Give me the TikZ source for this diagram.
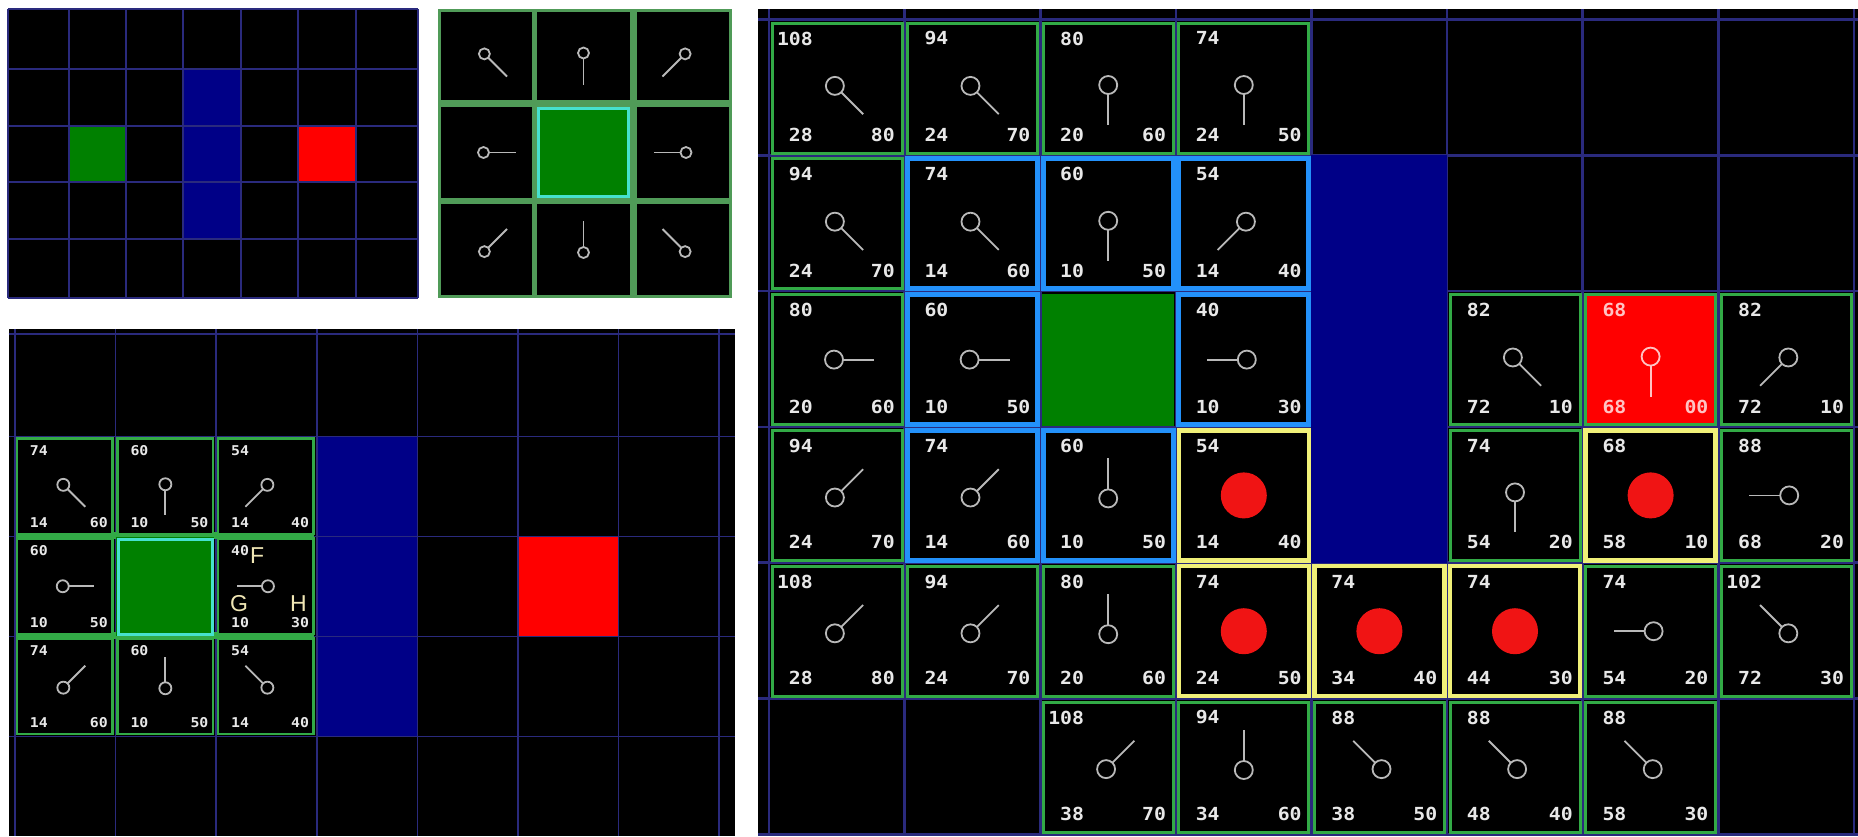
\documentclass[tikz,border=0pt]{standalone}
\usepackage{fontspec}
\newfontfamily\pixfont[FakeStretch=1.1]{DejaVu Sans Mono}
\newfontfamily\lblfont{Liberation Sans}
\definecolor{gridc}{RGB}{42,42,125}
\definecolor{wallc}{RGB}{0,0,135}
\definecolor{startc}{RGB}{0,128,0}
\definecolor{goalc}{RGB}{255,0,0}
\definecolor{dotc}{RGB}{240,20,20}
\definecolor{brdG}{RGB}{50,170,70}
\definecolor{brdB}{RGB}{35,145,250}
\definecolor{brdY}{RGB}{240,240,120}
\definecolor{bandc}{RGB}{80,155,88}
\definecolor{cyanc}{RGB}{70,225,205}
\definecolor{numc}{RGB}{232,232,232}
\definecolor{ptrc}{RGB}{185,185,185}
\definecolor{lblc}{RGB}{240,230,180}
\definecolor{pinkc}{RGB}{255,195,195}

\newcommand\numR{\pixfont\bfseries\fontsize{18}{18}\selectfont}
\newcommand\numS{\pixfont\bfseries\fontsize{13.5}{13.5}\selectfont}

% generic pointer: cx cy dx dy radius back length style
\newcommand\ptr[8]{%
  \pgfmathsetmacro\uxv{(#3)/veclen(#3,#4)}%
  \pgfmathsetmacro\uyv{(#4)/veclen(#3,#4)}%
  \draw[#8] ({#1-#6*\uxv},{#2-#6*\uyv}) circle[radius=#5pt];
  \draw[#8] ({#1+(#5-#6)*\uxv},{#2+(#5-#6)*\uyv}) -- ({#1+#7*\uxv},{#2+#7*\uyv});
}
% right panel
\newcommand\rbox[7]{%
  \pgfmathsetmacro\bx{772+135.6*#1}%
  \pgfmathsetmacro\by{23+135.8*#2}%
  \draw[#6] (\bx,\by) rectangle ++(130,130);
  \node[#7,anchor=north east] (rf-#1-#2) at ({\bx+41},{\by+8.5}) {#3};
  \node[#7,anchor=base east] (rg-#1-#2) at ({\bx+41},{\by+118.5}) {#4};
  \node[#7,anchor=base east] (rh-#1-#2) at ({\bx+123},{\by+118.5}) {#5};
}
\newcommand\rptr[5]{%
  \pgfmathsetmacro\cx{772+135.6*#1+65}%
  \pgfmathsetmacro\cy{23+135.8*#2+65}%
  \ptr{\cx}{\cy}{#3}{#4}{9}{3}{37}{#5}}
\newcommand\rdot[2]{%
  \pgfmathsetmacro\cx{772+135.6*#1+65}%
  \pgfmathsetmacro\cy{23+135.8*#2+65}%
  \fill[dotc] (\cx,\cy) circle[radius=23pt];}
% bottom-left panel
\newcommand\bbox[7]{%
  \pgfmathsetmacro\bx{17+100.6*#1}%
  \pgfmathsetmacro\by{438.5+100*(#2-1)}%
  \draw[sgbox] (\bx,\by) rectangle ++(95.5,95.5);
  \node[numsm,anchor=north east] (sf-#1-#2) at ({\bx+31},{\by+7}) {#3};
  \node[numsm,anchor=base east] (sg-#1-#2) at ({\bx+31},{\by+89}) {#4};
  \node[numsm,anchor=base east] (sh-#1-#2) at ({\bx+91},{\by+89}) {#5};
  \ptr{\bx+47.75}{\by+47.75}{#6}{#7}{6}{2}{29}{sptr}
}
% top-middle panel
\newcommand\mptr[4]{%
  \ptr{#1}{#2}{#3}{#4}{5.5}{3}{29}{sptr}}

\begin{document}
\begin{tikzpicture}[x=1pt,y=-1pt,
  numR/.style={font=\numR,text=numc,inner sep=0pt},
  numT/.style={font=\numR,text=pinkc,inner sep=0pt},
  numsm/.style={font=\numS,text=numc,inner sep=0pt},
  lbl/.style={font=\lblfont\fontsize{23}{23}\selectfont,text=lblc,inner sep=0pt},
  gbox/.style={draw=brdG,line width=3pt,fill=black},
  bbox/.style={draw=brdB,line width=5pt,fill=black},
  ybox/.style={draw=brdY,line width=4.5pt,fill=black},
  tbox/.style={draw=brdG,line width=3pt,fill=goalc},
  sgbox/.style={draw=brdG,line width=2.5pt,fill=black},
  rptrs/.style={draw=ptrc,line width=1.8pt},
  tptrs/.style={draw=pinkc,line width=1.8pt},
  sptr/.style={draw=ptrc,line width=1.8pt},
  gridthin/.style={draw=gridc,line width=1.5pt},
  gridthick/.style={draw=gridc,line width=2.6pt}]
\useasboundingbox (0,0) rectangle (1858,836);
\fill[white] (0,0) rectangle (1858,836);

% ---------- top-left panel ----------
\fill[black] (8,9) rectangle (418,298);
\fill[startc] (69,126) rectangle (126,182);
\fill[wallc] (183,69) rectangle (241,239);
\fill[goalc] (298,126) rectangle (356,182);
\foreach \x in {8,69,126,183,241,298,356,418} \draw[gridthin] (\x,9) -- (\x,298);
\foreach \y in {9,69,126,182,239,298} \draw[gridthin] (8,\y) -- (418,\y);

% ---------- top-middle panel ----------
\fill[bandc] (438,9) rectangle (732,298);
\foreach \xa/\xb in {441/532,537/630,637/729}
  \foreach \ya/\yb in {12/100,107/198,204/295}
    \fill[black] (\xa,\ya) rectangle (\xb,\yb);
\fill[startc] (537,107) rectangle (630,198);
\draw[cyanc,line width=3pt] (538.5,108.5) rectangle (628.5,196.5);
\mptr{486.5}{56}{1}{1}
\mptr{583.5}{56}{0}{1}
\mptr{683}{56}{-1}{1}
\mptr{486.5}{152.5}{1}{0}
\mptr{683}{152.5}{-1}{0}
\mptr{486.5}{249.5}{1}{-1}
\mptr{583.5}{249.5}{0}{-1}
\mptr{683}{249.5}{-1}{-1}

% ---------- bottom-left panel ----------
\fill[black] (8.5,329) rectangle (735,836);
\fill[wallc] (316,436.7) rectangle (417,736.7);
\fill[goalc] (518,536.7) rectangle (619,636.7);
\foreach \k in {0,...,7} \draw[gridthin] ({15+100.6*\k},329) -- ({15+100.6*\k},836);
\foreach \y in {334,436.7,536.7,636.7,736.7} \draw[gridthin] (8.5,\y) -- (735,\y);
\fill[brdG] (16,532) rectangle (314,539);
\fill[brdG] (16,632) rectangle (314,639);
\bbox{0}{1}{74}{14}{60}{1}{1}
\bbox{1}{1}{60}{10}{50}{0}{1}
\bbox{2}{1}{54}{14}{40}{-1}{1}
\bbox{0}{2}{60}{10}{50}{1}{0}
\bbox{2}{2}{40}{10}{30}{-1}{0}
\bbox{0}{3}{74}{14}{60}{1}{-1}
\bbox{1}{3}{60}{10}{50}{0}{-1}
\bbox{2}{3}{54}{14}{40}{-1}{-1}
\fill[startc] (116,537) rectangle (214,636);
\draw[cyanc,line width=3pt] (118,539) rectangle (212,634);
\node[lbl,anchor=north west] (lblF) at (250,547) {F};
\node[lbl,anchor=north west] (lblG) at (230,595) {G};
\node[lbl,anchor=north east] (lblH) at (307,595) {H};

% ---------- right panel ----------
\fill[black] (758,9) rectangle (1858,836);
\foreach \k in {0,...,8} \draw[gridthick] ({769+135.6*\k},9) -- ({769+135.6*\k},836);
\foreach \r in {0,...,6} \draw[gridthick] (758,{19.5+135.8*\r}) -- (1858,{19.5+135.8*\r});
\fill[wallc] (1311.4,155.3) rectangle (1447,562.7);
\fill[startc] (1042,293.6) rectangle (1174.2,425.6);

\rbox{0}{0}{108}{28}{80}{gbox}{numR} \rptr{0}{0}{1}{1}{rptrs}
\rbox{1}{0}{94}{24}{70}{gbox}{numR} \rptr{1}{0}{1}{1}{rptrs}
\rbox{2}{0}{80}{20}{60}{gbox}{numR} \rptr{2}{0}{0}{1}{rptrs}
\rbox{3}{0}{74}{24}{50}{gbox}{numR} \rptr{3}{0}{0}{1}{rptrs}

\rbox{0}{1}{94}{24}{70}{gbox}{numR} \rptr{0}{1}{1}{1}{rptrs}
\rbox{1}{1}{74}{14}{60}{bbox}{numR} \rptr{1}{1}{1}{1}{rptrs}
\rbox{2}{1}{60}{10}{50}{bbox}{numR} \rptr{2}{1}{0}{1}{rptrs}
\rbox{3}{1}{54}{14}{40}{bbox}{numR} \rptr{3}{1}{-1}{1}{rptrs}

\rbox{0}{2}{80}{20}{60}{gbox}{numR} \rptr{0}{2}{1}{0}{rptrs}
\rbox{1}{2}{60}{10}{50}{bbox}{numR} \rptr{1}{2}{1}{0}{rptrs}
\rbox{3}{2}{40}{10}{30}{bbox}{numR} \rptr{3}{2}{-1}{0}{rptrs}
\rbox{5}{2}{82}{72}{10}{gbox}{numR} \rptr{5}{2}{1}{1}{rptrs}
\rbox{6}{2}{68}{68}{00}{tbox}{numT} \rptr{6}{2}{0}{1}{tptrs}
\rbox{7}{2}{82}{72}{10}{gbox}{numR} \rptr{7}{2}{-1}{1}{rptrs}

\rbox{0}{3}{94}{24}{70}{gbox}{numR} \rptr{0}{3}{1}{-1}{rptrs}
\rbox{1}{3}{74}{14}{60}{bbox}{numR} \rptr{1}{3}{1}{-1}{rptrs}
\rbox{2}{3}{60}{10}{50}{bbox}{numR} \rptr{2}{3}{0}{-1}{rptrs}
\rbox{3}{3}{54}{14}{40}{ybox}{numR} \rdot{3}{3}
\rbox{5}{3}{74}{54}{20}{gbox}{numR} \rptr{5}{3}{0}{1}{rptrs}
\rbox{6}{3}{68}{58}{10}{ybox}{numR} \rdot{6}{3}
\rbox{7}{3}{88}{68}{20}{gbox}{numR} \rptr{7}{3}{-1}{0}{rptrs}

\rbox{0}{4}{108}{28}{80}{gbox}{numR} \rptr{0}{4}{1}{-1}{rptrs}
\rbox{1}{4}{94}{24}{70}{gbox}{numR} \rptr{1}{4}{1}{-1}{rptrs}
\rbox{2}{4}{80}{20}{60}{gbox}{numR} \rptr{2}{4}{0}{-1}{rptrs}
\rbox{3}{4}{74}{24}{50}{ybox}{numR} \rdot{3}{4}
\rbox{4}{4}{74}{34}{40}{ybox}{numR} \rdot{4}{4}
\rbox{5}{4}{74}{44}{30}{ybox}{numR} \rdot{5}{4}
\rbox{6}{4}{74}{54}{20}{gbox}{numR} \rptr{6}{4}{-1}{0}{rptrs}
\rbox{7}{4}{102}{72}{30}{gbox}{numR} \rptr{7}{4}{-1}{-1}{rptrs}

\rbox{2}{5}{108}{38}{70}{gbox}{numR} \rptr{2}{5}{1}{-1}{rptrs}
\rbox{3}{5}{94}{34}{60}{gbox}{numR} \rptr{3}{5}{0}{-1}{rptrs}
\rbox{4}{5}{88}{38}{50}{gbox}{numR} \rptr{4}{5}{-1}{-1}{rptrs}
\rbox{5}{5}{88}{48}{40}{gbox}{numR} \rptr{5}{5}{-1}{-1}{rptrs}
\rbox{6}{5}{88}{58}{30}{gbox}{numR} \rptr{6}{5}{-1}{-1}{rptrs}
\end{tikzpicture}
\end{document}
